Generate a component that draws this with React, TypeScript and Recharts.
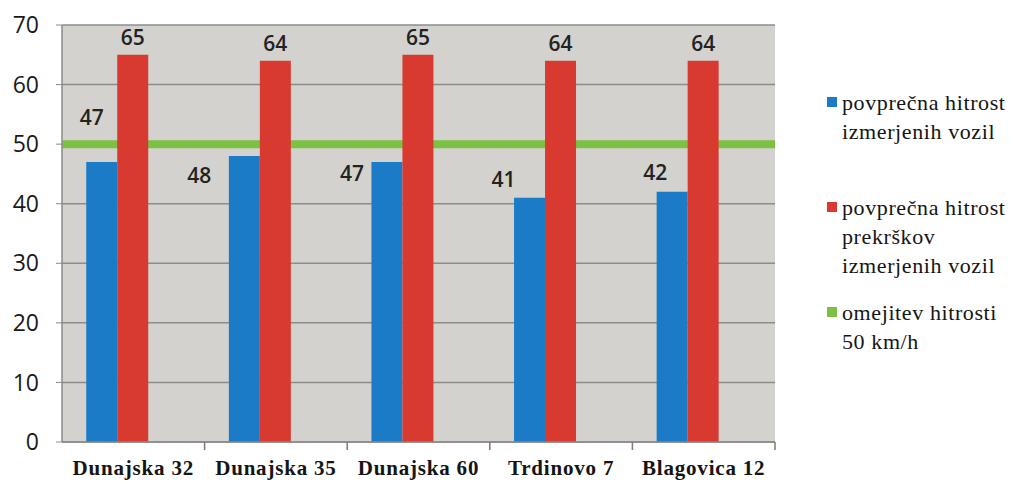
import React from 'react';
import { ComposedChart, Bar, XAxis, YAxis, CartesianGrid, Legend } from 'recharts';

const categories = ['Dunajska 32', 'Dunajska 35', 'Dunajska 60', 'Trdinovo 7', 'Blagovica 12'];
const avgSpeed = [47, 48, 47, 41, 42];
const avgViolationSpeed = [65, 64, 65, 64, 64];
const speedLimit = 50;
const yTicks = [0, 10, 20, 30, 40, 50, 60, 70];
const seriesNames = [
  ['povprečna hitrost', 'izmerjenih vozil'],
  ['povprečna hitrost', 'prekrškov', 'izmerjenih vozil'],
  ['omejitev hitrosti', '50 km/h'],
];

const COLORS = { blue: '#1b7bc6', red: '#d83a2f', green: '#7cc142', bg: '#d3d2ce', grid: '#8c8c8c' };

// label placement offsets (layout only)
const blueLabelDx = [-10, -45, -35, -26, -17];
const blueLabelDy = [-45, 19, 11, -19, -20];

const data = categories.map((name, i) => ({
  name,
  avg: avgSpeed[i],
  viol: avgViolationSpeed[i],
  slot: null as number | null,
}));

const W = 1014;
const H = 484;
const M = { top: 25, right: 239, bottom: 0, left: 0 };
const Y_W = 62;
const X_H = 42;
const BW = (W - M.left - Y_W - M.right) / categories.length;

const labelFont = "'Open Sans', 'Liberation Sans', sans-serif";
const serifFont = "'Liberation Serif', 'DejaVu Serif', serif";

const XTick = (props: any) => {
  const { x, y, payload } = props;
  return (
    <g>
      <line x1={x + BW / 2} x2={x + BW / 2} y1={y - 8} y2={y} stroke="#7a7a7a" strokeWidth={1.5} />
      <text
        x={x}
        y={y + 25}
        textAnchor="middle"
        fontFamily={serifFont}
        fontWeight="bold"
        fontSize={21}
        letterSpacing={0.8}
        fill="#151515"
      >
        {payload.value}
      </text>
    </g>
  );
};

const BlueLabel = (props: any) => {
  const { x, y, width, value, index } = props;
  return (
    <text
      x={x + width / 2 + blueLabelDx[index]}
      y={y + blueLabelDy[index]}
      textAnchor="middle"
      dominantBaseline="central"
      fontFamily={labelFont}
      fontWeight={600}
      fontSize={21}
      fill="#222"
    >
      {value}
    </text>
  );
};

const RedLabel = (props: any) => {
  const { x, y, width, value } = props;
  return (
    <text
      x={x + width / 2}
      y={y - 18}
      textAnchor="middle"
      dominantBaseline="central"
      fontFamily={labelFont}
      fontWeight={600}
      fontSize={21}
      fill="#222"
    >
      {value}
    </text>
  );
};

const legendColors = [COLORS.blue, COLORS.red, COLORS.green];
const legendTops = [0, 105, 210];

const LegendContent = () => (
  <div style={{ position: 'relative', width: 187, height: 0, overflow: 'visible' }}>
    {seriesNames.map((lines, i) => (
      <div key={i} style={{ position: 'absolute', left: 0, top: legendTops[i] }}>
        <div
          style={{
            position: 'absolute',
            left: 0,
            top: 9,
            width: 10,
            height: 10,
            background: legendColors[i],
          }}
        />
        <div
          style={{
            position: 'absolute',
            left: 15,
            top: 0,
            fontFamily: serifFont,
            fontSize: 22,
            lineHeight: '29px',
            letterSpacing: 0.6,
            color: '#151515',
            whiteSpace: 'nowrap',
          }}
        >
          {lines.map((l, j) => (
            <div key={j}>{l}</div>
          ))}
        </div>
      </div>
    ))}
  </div>
);

export default function App() {
  return (
    <div style={{ position: 'absolute', left: 0, top: 0, width: W, height: H, background: '#fff' }}>
      <ComposedChart width={W} height={H} data={data} margin={M} barGap={0} barCategoryGap="17%">
        <CartesianGrid vertical={false} fill={COLORS.bg} stroke={COLORS.grid} strokeWidth={1.5} />
        <CartesianGrid
          vertical={false}
          horizontalValues={[speedLimit]}
          stroke={COLORS.green}
          strokeWidth={8}
          fill="none"
        />
        <XAxis
          dataKey="name"
          height={X_H}
          axisLine={{ stroke: '#8a8a8a', strokeWidth: 1.5 }}
          tickLine={false}
          tick={<XTick />}
          interval={0}
        />
        <YAxis
          width={Y_W}
          domain={[0, 70]}
          ticks={yTicks}
          interval={0}
          axisLine={{ stroke: '#8a8a8a', strokeWidth: 1.5 }}
          tickLine={{ stroke: '#8a8a8a' }}
          tickSize={6}
          tickMargin={17}
          tick={{ fontFamily: labelFont, fontSize: 23, fill: '#1a1a1a' }}
        />
        <Bar dataKey="avg" fill={COLORS.blue} isAnimationActive={false} label={<BlueLabel />} />
        <Bar dataKey="viol" fill={COLORS.red} isAnimationActive={false} label={<RedLabel />} />
        <Bar dataKey="slot" fill="transparent" isAnimationActive={false} legendType="none" />
        <Legend
          content={<LegendContent />}
          wrapperStyle={{ position: 'absolute', left: 827, top: 88, width: 187, height: 0 }}
        />
      </ComposedChart>
    </div>
  );
}
